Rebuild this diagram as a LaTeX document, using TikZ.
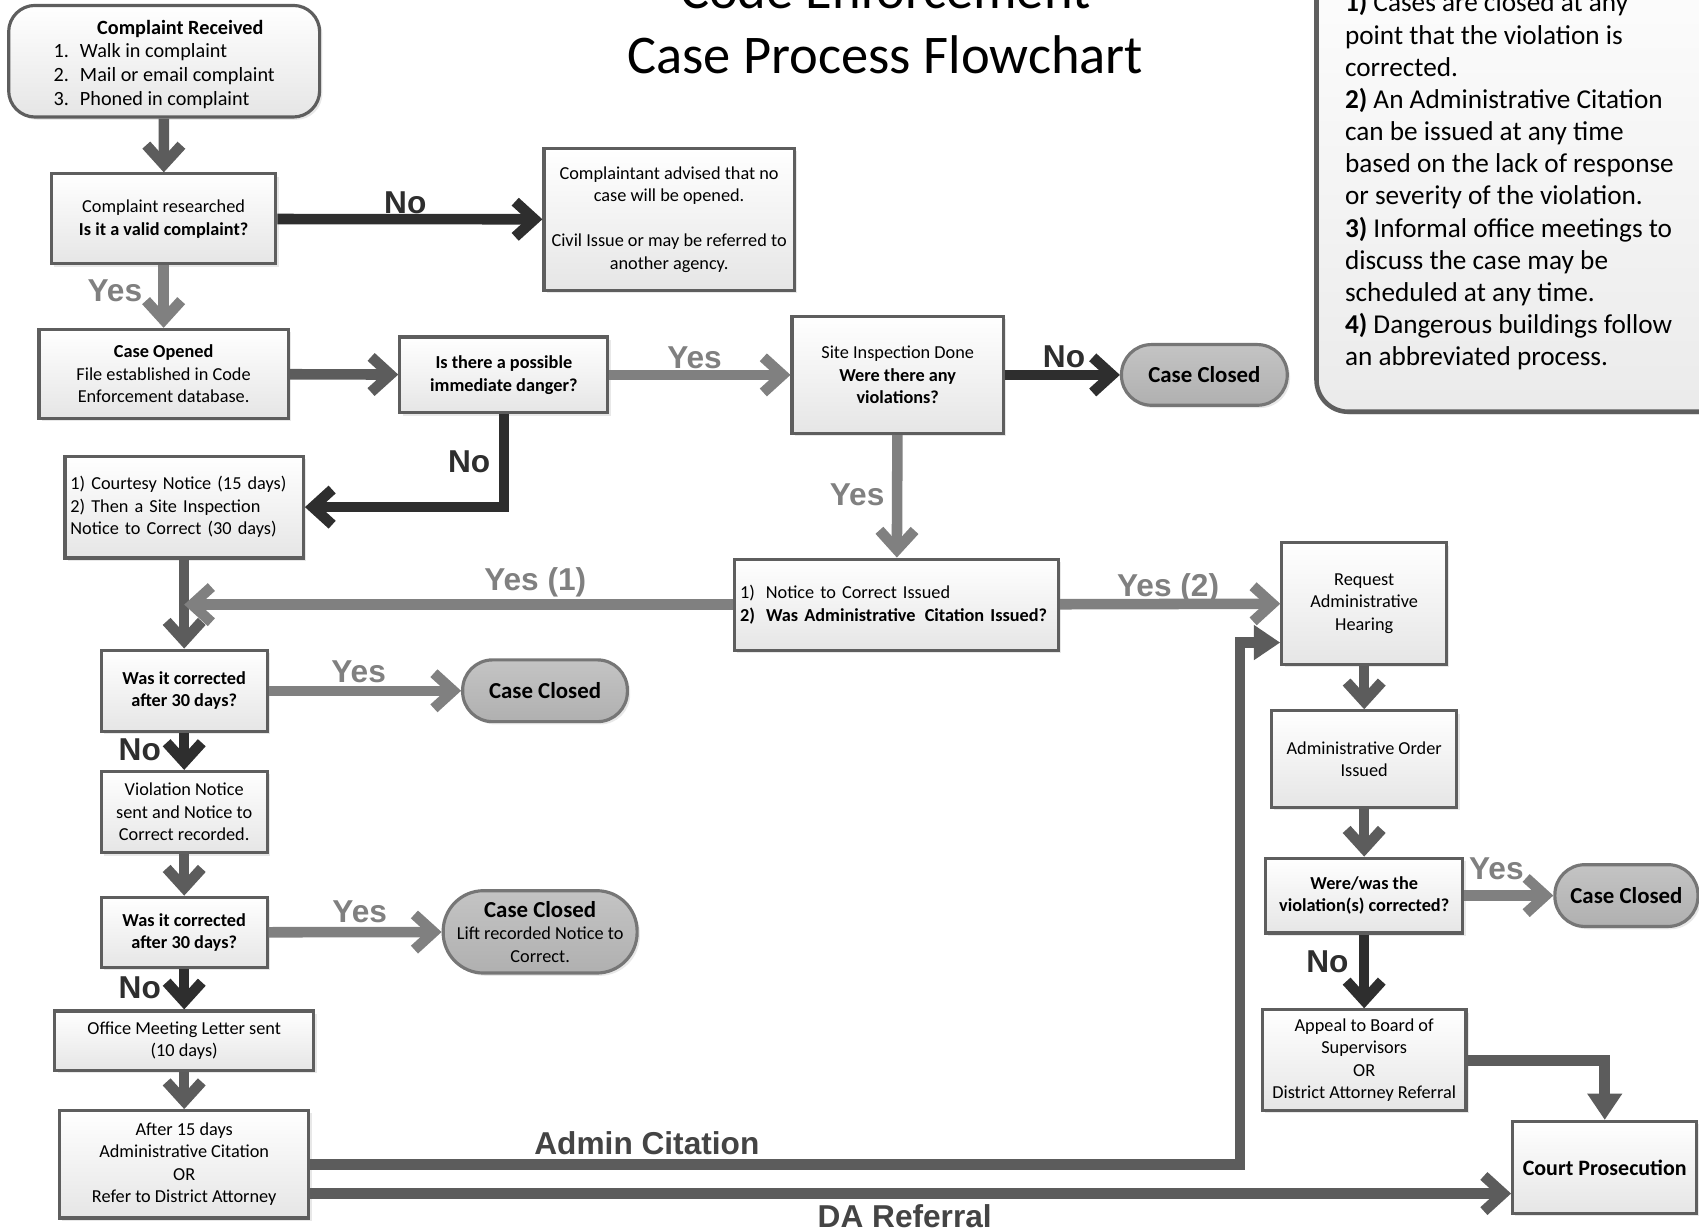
\documentclass[tikz,border=0pt]{standalone}
\usepackage{fontspec}
\setmainfont{Carlito}
\newfontfamily\labfont{Liberation Sans}
\usetikzlibrary{arrows.meta,shadows,calc}

\definecolor{edgegray}{HTML}{5E5E5E}
\definecolor{flowgray}{HTML}{5C5C5C}
\definecolor{nogray}{HTML}{2E2E2E}
\definecolor{yesgray}{HTML}{808080}
\definecolor{pillgray}{HTML}{B0B0B0}
\definecolor{roadgray}{HTML}{444444}

\newlength{\px}
\setlength{\px}{0.021671cm}

\tikzset{
  dropsh/.style={drop shadow={opacity=.18, shadow xshift=1.6pt, shadow yshift=-1.6pt}},
  box/.style={dropsh, draw=edgegray, line width=1.8pt, top color=white, bottom color=black!10,
              align=center, inner sep=1pt, font=\fontsize{10.4}{12.8}\selectfont},
  pill/.style={dropsh, draw=edgegray!85, line width=1.8pt, top color=pillgray!75, bottom color=pillgray,
               rounded corners=17pt, align=center, inner sep=1pt, font=\fontsize{13}{15}\selectfont\bfseries},
  flow/.style={line width=6pt, draw=flowgray, -{Straight Barb[sharp, length=11pt, width=20pt]}},
  fillflow/.style={flow, -{Triangle[length=15pt, width=19pt]}},
  yesln/.style={flow, draw=yesgray},
  noln/.style={flow, draw=nogray},
  lab/.style={font=\labfont\bfseries\fontsize{18}{20}\selectfont, inner sep=0pt},
  yeslab/.style={lab, text=yesgray},
  nolab/.style={lab, text=nogray},
  roadlab/.style={lab, text=roadgray},
  ttl/.style={font=\fontsize{31}{37}\selectfont, inner sep=0pt},
  notetext/.style={align=left, inner sep=0pt, font=\fontsize{15.5}{18.3}\selectfont},
}

\begin{document}
\begin{tikzpicture}[x=\px, y=-\px]
\useasboundingbox (0,0) rectangle (1568,1135);

\draw[dropsh, draw=edgegray, line width=2.6pt, top color=white, bottom color=black!8, rounded corners=18pt]
  (1215,-80) rectangle (1660,380);
\node[notetext, anchor=north west] (notes) at (1241,-8)
  {\textbf{1)} Cases are closed at any\\point that the violation is\\corrected.\\
   \textbf{2)} An Administrative Citation\\can be issued at any time\\based on the lack of response\\or severity of the violation.\\
   \textbf{3)} Informal office meetings to\\discuss the case may be\\scheduled at any time.\\
   \textbf{4)} Dangerous buildings follow\\an abbreviated process.};

\node[ttl, anchor=base] (title1) at (817,8) {Code Enforcement};
\node[ttl, anchor=base] (title2) at (817,68) {Case Process Flowchart};

\node[box, rounded corners=15pt, minimum width=287*\px, minimum height=103*\px, font=\fontsize{11.5}{13.5}\selectfont] (recv) at (151.5,56.5)
  {\rule{0pt}{14pt}\hspace*{1.6em}\textbf{Complaint Received}\\[1pt]
   \begin{tabular}{@{}r@{\hspace{.55em}}l@{}}1.&Walk in complaint\\2.&Mail or email complaint\\3.&Phoned in complaint\end{tabular}};
\node[box, minimum width=207*\px, minimum height=83*\px] (research) at (151,202) {Complaint researched\\\textbf{Is it a valid complaint?}};
\node[box, minimum width=231*\px, minimum height=131*\px] (advised) at (617.5,202.5)
  {Complaintant advised that no\\case will be opened.\\[12.6pt]Civil Issue or may be referred to\\another agency.};
\node[box, minimum width=230*\px, minimum height=82*\px] (opened) at (151,345) {\textbf{Case Opened}\\File established in Code\\Enforcement database.};
\node[box, minimum width=192*\px, minimum height=70*\px, font=\fontsize{10.4}{12.8}\selectfont\bfseries] (danger) at (465,346) {Is there a possible\\immediate danger?};
\node[box, minimum width=195*\px, minimum height=108*\px] (site) at (828.5,346) {Site Inspection Done\\\textbf{Were there any}\\\textbf{violations?}};
\node[pill, minimum width=153*\px, minimum height=56*\px] (closed1) at (1111.5,346) {Case Closed};
\node[box, minimum width=220*\px, minimum height=94*\px, text width=210*\px, inner xsep=5*\px, align=left] (courtesy) at (170,468)
  {1) Courtesy Notice (15 days)\\2) Then a Site Inspection\\Notice to Correct (30 days)};
\node[box, minimum width=299*\px, minimum height=84*\px, text width=289*\px, inner xsep=5*\px, align=left] (ntc) at (827.5,558)
  {1)\hspace{.6em}Notice to Correct Issued\\\textbf{2)\hspace{.6em}Was Administrative\hspace{.5em}Citation Issued?}};
\node[box, minimum width=152*\px, minimum height=112*\px] (hearing) at (1259,557) {Request\\Administrative\\Hearing};
\node[box, minimum width=153*\px, minimum height=75*\px, font=\fontsize{10.4}{12.8}\selectfont\bfseries] (corr1) at (170,637.5) {Was it corrected\\after 30 days?};
\node[pill, minimum width=152*\px, minimum height=57*\px] (closed2) at (503,637.5) {Case Closed};
\node[box, minimum width=153*\px, minimum height=75*\px] (violation) at (170,749.5) {Violation Notice\\sent and Notice to\\Correct recorded.};
\node[box, minimum width=153*\px, minimum height=65*\px, font=\fontsize{10.4}{12.8}\selectfont\bfseries] (corr2) at (170,860.5) {Was it corrected\\after 30 days?};
\node[pill, minimum width=179*\px, minimum height=76*\px, rounded corners=23pt, font=\fontsize{13}{12.8}\selectfont\bfseries] (closed3) at (498.5,860)
  {Case Closed\\{\mdseries\fontsize{10.4}{12.8}\selectfont Lift recorded Notice to}\\{\mdseries\fontsize{10.4}{12.8}\selectfont Correct.}};
\node[box, minimum width=239*\px, minimum height=55*\px] (meeting) at (170,960.5) {Office Meeting Letter sent\\(10 days)};
\node[box, minimum width=230*\px, minimum height=99*\px] (after) at (170,1074.5) {After 15 days\\Administrative Citation\\OR\\Refer to District Attorney};
\node[box, minimum width=171*\px, minimum height=89*\px] (order) at (1259,700.5) {Administrative Order\\Issued};
\node[box, minimum width=182*\px, minimum height=69*\px, font=\fontsize{10.4}{12.8}\selectfont\bfseries] (corrected) at (1259,826.5) {Were/was the\\violation(s) corrected?};
\node[pill, minimum width=132*\px, minimum height=57*\px] (closed4) at (1501,826.5) {Case Closed};
\node[box, minimum width=188*\px, minimum height=93*\px] (appeal) at (1259,978.5) {Appeal to Board of\\Supervisors\\OR\\District Attorney Referral};
\node[box, minimum width=170*\px, minimum height=85*\px, font=\fontsize{12.5}{14}\selectfont\bfseries] (court) at (1481,1077.5) {Court Prosecution};

\draw[flow] (recv) -- (research);
\draw[noln] (research) -- (advised);
\draw[yesln] (research) -- (opened);
\draw[flow] (opened) -- (danger);
\draw[yesln] (danger) -- (site);
\draw[noln] (site) -- (closed1);
\draw[noln] (danger.south) |- (courtesy.east);
\draw[yesln] (site) -- (ntc);
\draw[flow] (courtesy) -- (corr1);
\draw[yesln] (ntc.west) -- (ntc.west -| corr1.north);
\draw[yesln] (ntc) -- (hearing);
\draw[yesln] (corr1) -- (closed2);
\draw[noln] (corr1) -- (violation);
\draw[flow] (violation) -- (corr2);
\draw[yesln] (corr2) -- (closed3);
\draw[noln] (corr2) -- (meeting);
\draw[flow] (meeting) -- (after);
\draw[fillflow] (after.east) -- ++(858,0) |- ($(hearing.west)+(0,36)$);
\draw[flow] ($(after.east)+(0,27)$) coordinate (da) -- (da -| court.west);
\draw[flow] (hearing) -- (order);
\draw[flow] (order) -- (corrected);
\draw[yesln] (corrected) -- (closed4);
\draw[noln] (corrected) -- (appeal);
\draw[fillflow] (appeal.east) -| (court.north);

\node[nolab] (lno1) at (374,187) {No};
\node[yeslab] (lyes1) at (106,268) {Yes};
\node[yeslab] (lyes2) at (641,330) {Yes};
\node[nolab] (lno2) at (433,426) {No};
\node[nolab] (lno3) at (982,329) {No};
\node[yeslab] (lyes3) at (791,457) {Yes};
\node[yeslab] (lyes4) at (494,537) {Yes (1)};
\node[yeslab] (lyes5) at (1078,543) {Yes (2)};
\node[yeslab] (lyes6) at (331,620) {Yes};
\node[nolab] (lno4) at (129,692) {No};
\node[yeslab] (lyes7) at (332,841) {Yes};
\node[nolab] (lno5) at (129,912) {No};
\node[yeslab] (lyes8) at (1381,802) {Yes};
\node[nolab] (lno6) at (1225,888) {No};
\node[roadlab] (lcite) at (597,1055) {Admin Citation};
\node[roadlab] (lda) at (835,1122) {DA Referral};
\end{tikzpicture}
\end{document}
